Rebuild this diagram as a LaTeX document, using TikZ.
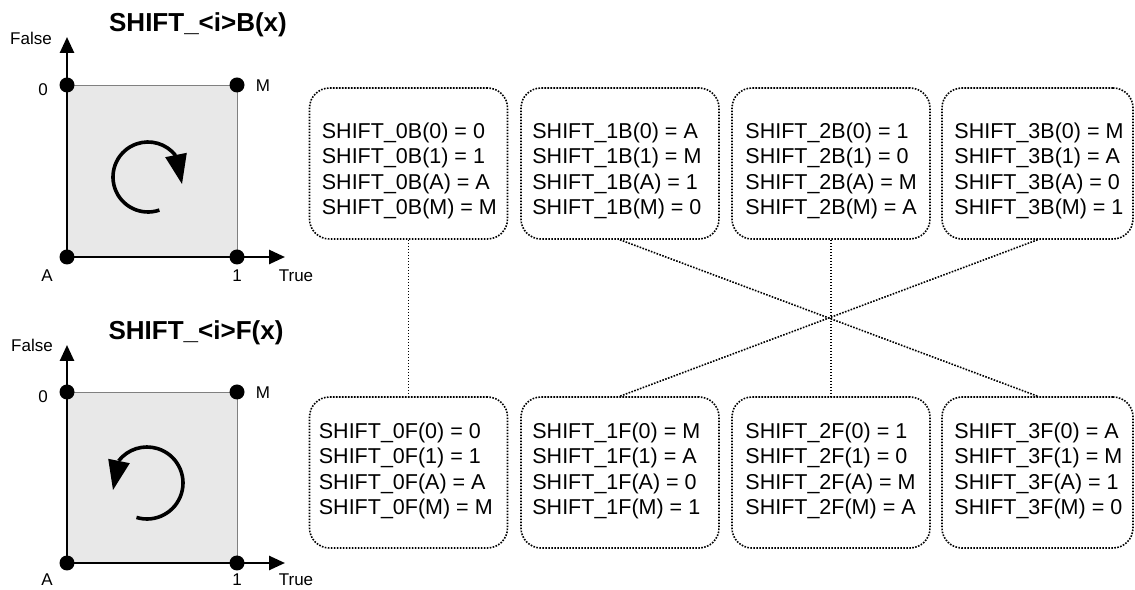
\documentclass[tikz,border=0pt]{standalone}
\usepackage{fontspec}
\setmainfont{Liberation Sans}
\usetikzlibrary{arrows.meta,calc}
\begin{document}
\begin{tikzpicture}[x=1pt,y=1pt,
  axis/.style={line width=2.6pt, -{Triangle[length=16pt,width=14pt]}},
  sq/.style={fill=black!9, draw=black!50, line width=0.8pt},
  dot/.style={circle, fill=black, inner sep=0pt, minimum size=15pt},
  lab/.style={font=\fontsize{17}{20}\selectfont, inner sep=0pt},
  ttl/.style={font=\fontsize{26}{30}\selectfont\bfseries, inner sep=0pt},
  box/.style={draw=black, line width=1.6pt, dash pattern=on 1.6pt off 1.4pt, rounded corners=20pt, minimum width=198pt, minimum height=151pt, inner sep=0pt},
  tbl/.style={font=\fontsize{21.5}{25.5}\selectfont, align=left, inner sep=0pt, anchor=west},
  conn/.style={draw=black, line width=1.6pt, dash pattern=on 1.6pt off 1.4pt},
  rot/.style={line width=3.6pt}
]
\useasboundingbox (0,0) rectangle (1135,589);

% ---------- top diagram ----------
\draw[sq] (67,332) rectangle (237,504);
\coordinate (o1) at (67,332);
\coordinate (y1) at (67,552);
\coordinate (x1) at (285,332);
\draw[axis] (o1) -- (y1);
\draw[axis] (o1) -- (x1);
\node[dot] (dA1) at (67,332) {};
\node[dot] (d01) at (67,504) {};
\node[dot] (dM1) at (237,504) {};
\node[dot] (d11) at (237,332) {};
\node[ttl] (t1) at (198,564) {SHIFT\_<i>B(x)};
\node[lab] (lf1) at (31,551) {False};
\node[lab] (l01) at (43,499) {0};
\node[lab] (lM1) at (263,503) {M};
\node[lab] (lA1) at (47,313) {A};
\node[lab] (l11) at (237,313) {1};
\node[lab] (lT1) at (296,313) {True};
\draw[rot] (148,412) ++(289:35) arc[start angle=289, end angle=38, radius=35];
\fill (165.2,431.8) -- (186.8,436.2) -- (182,405) -- cycle;

% ---------- bottom diagram ----------
\draw[sq] (67,26) rectangle (237,197);
\coordinate (o2) at (67,26);
\coordinate (y2) at (67,244);
\coordinate (x2) at (285,26);
\draw[axis] (o2) -- (y2);
\draw[axis] (o2) -- (x2);
\node[dot] (dA2) at (67,26) {};
\node[dot] (d02) at (67,197) {};
\node[dot] (dM2) at (237,197) {};
\node[dot] (d12) at (237,26) {};
\node[ttl] (t2) at (196,256) {SHIFT\_<i>F(x)};
\node[lab] (lf2) at (32,244) {False};
\node[lab] (l02) at (43,192) {0};
\node[lab] (lM2) at (263,196) {M};
\node[lab] (lA2) at (47,9) {A};
\node[lab] (l12) at (237,9) {1};
\node[lab] (lT2) at (296,9) {True};
\draw[rot] (147,106) ++(253:36) arc[start angle=253, end angle=502, radius=36];
\fill (129.8,125.8) -- (108.2,130.2) -- (113,99) -- cycle;

% ---------- boxes ----------
\node[box] (b0) at (408.5,425.5) {};
\node[box] (b1) at (620,425.5) {};
\node[box] (b2) at (831,425.5) {};
\node[box, minimum width=191pt] (b3) at (1037.5,425.5) {};
\node[box] (f0) at (408.5,116.5) {};
\node[box] (f1) at (620,116.5) {};
\node[box] (f2) at (831,116.5) {};
\node[box, minimum width=191pt] (f3) at (1037.5,116.5) {};

\node[tbl] (tb0) at ($(b0.west)+(13,-7.5)$) {SHIFT\_0B(0) = 0\\SHIFT\_0B(1) = 1\\SHIFT\_0B(A) = A\\SHIFT\_0B(M) = M};
\node[tbl] (tb1) at ($(b1.west)+(12,-7.5)$) {SHIFT\_1B(0) = A\\SHIFT\_1B(1) = M\\SHIFT\_1B(A) = 1\\SHIFT\_1B(M) = 0};
\node[tbl] (tb2) at ($(b2.west)+(14,-7.5)$) {SHIFT\_2B(0) = 1\\SHIFT\_2B(1) = 0\\SHIFT\_2B(A) = M\\SHIFT\_2B(M) = A};
\node[tbl] (tb3) at ($(b3.west)+(13,-7.5)$) {SHIFT\_3B(0) = M\\SHIFT\_3B(1) = A\\SHIFT\_3B(A) = 0\\SHIFT\_3B(M) = 1};
\node[tbl] (tf0) at ($(f0.west)+(10,1.5)$) {SHIFT\_0F(0) = 0\\SHIFT\_0F(1) = 1\\SHIFT\_0F(A) = A\\SHIFT\_0F(M) = M};
\node[tbl] (tf1) at ($(f1.west)+(12,1.5)$) {SHIFT\_1F(0) = M\\SHIFT\_1F(1) = A\\SHIFT\_1F(A) = 0\\SHIFT\_1F(M) = 1};
\node[tbl] (tf2) at ($(f2.west)+(14,1.5)$) {SHIFT\_2F(0) = 1\\SHIFT\_2F(1) = 0\\SHIFT\_2F(A) = M\\SHIFT\_2F(M) = A};
\node[tbl] (tf3) at ($(f3.west)+(13,1.5)$) {SHIFT\_3F(0) = A\\SHIFT\_3F(1) = M\\SHIFT\_3F(A) = 1\\SHIFT\_3F(M) = 0};

% ---------- connectors ----------
\draw[conn] (b0.south) -- (f0.north);
\draw[conn] (b2.south) -- (f2.north);
\draw[conn] (b1.south) -- (f3.north);
\draw[conn] (b3.south) -- (f1.north);
\end{tikzpicture}
\end{document}
